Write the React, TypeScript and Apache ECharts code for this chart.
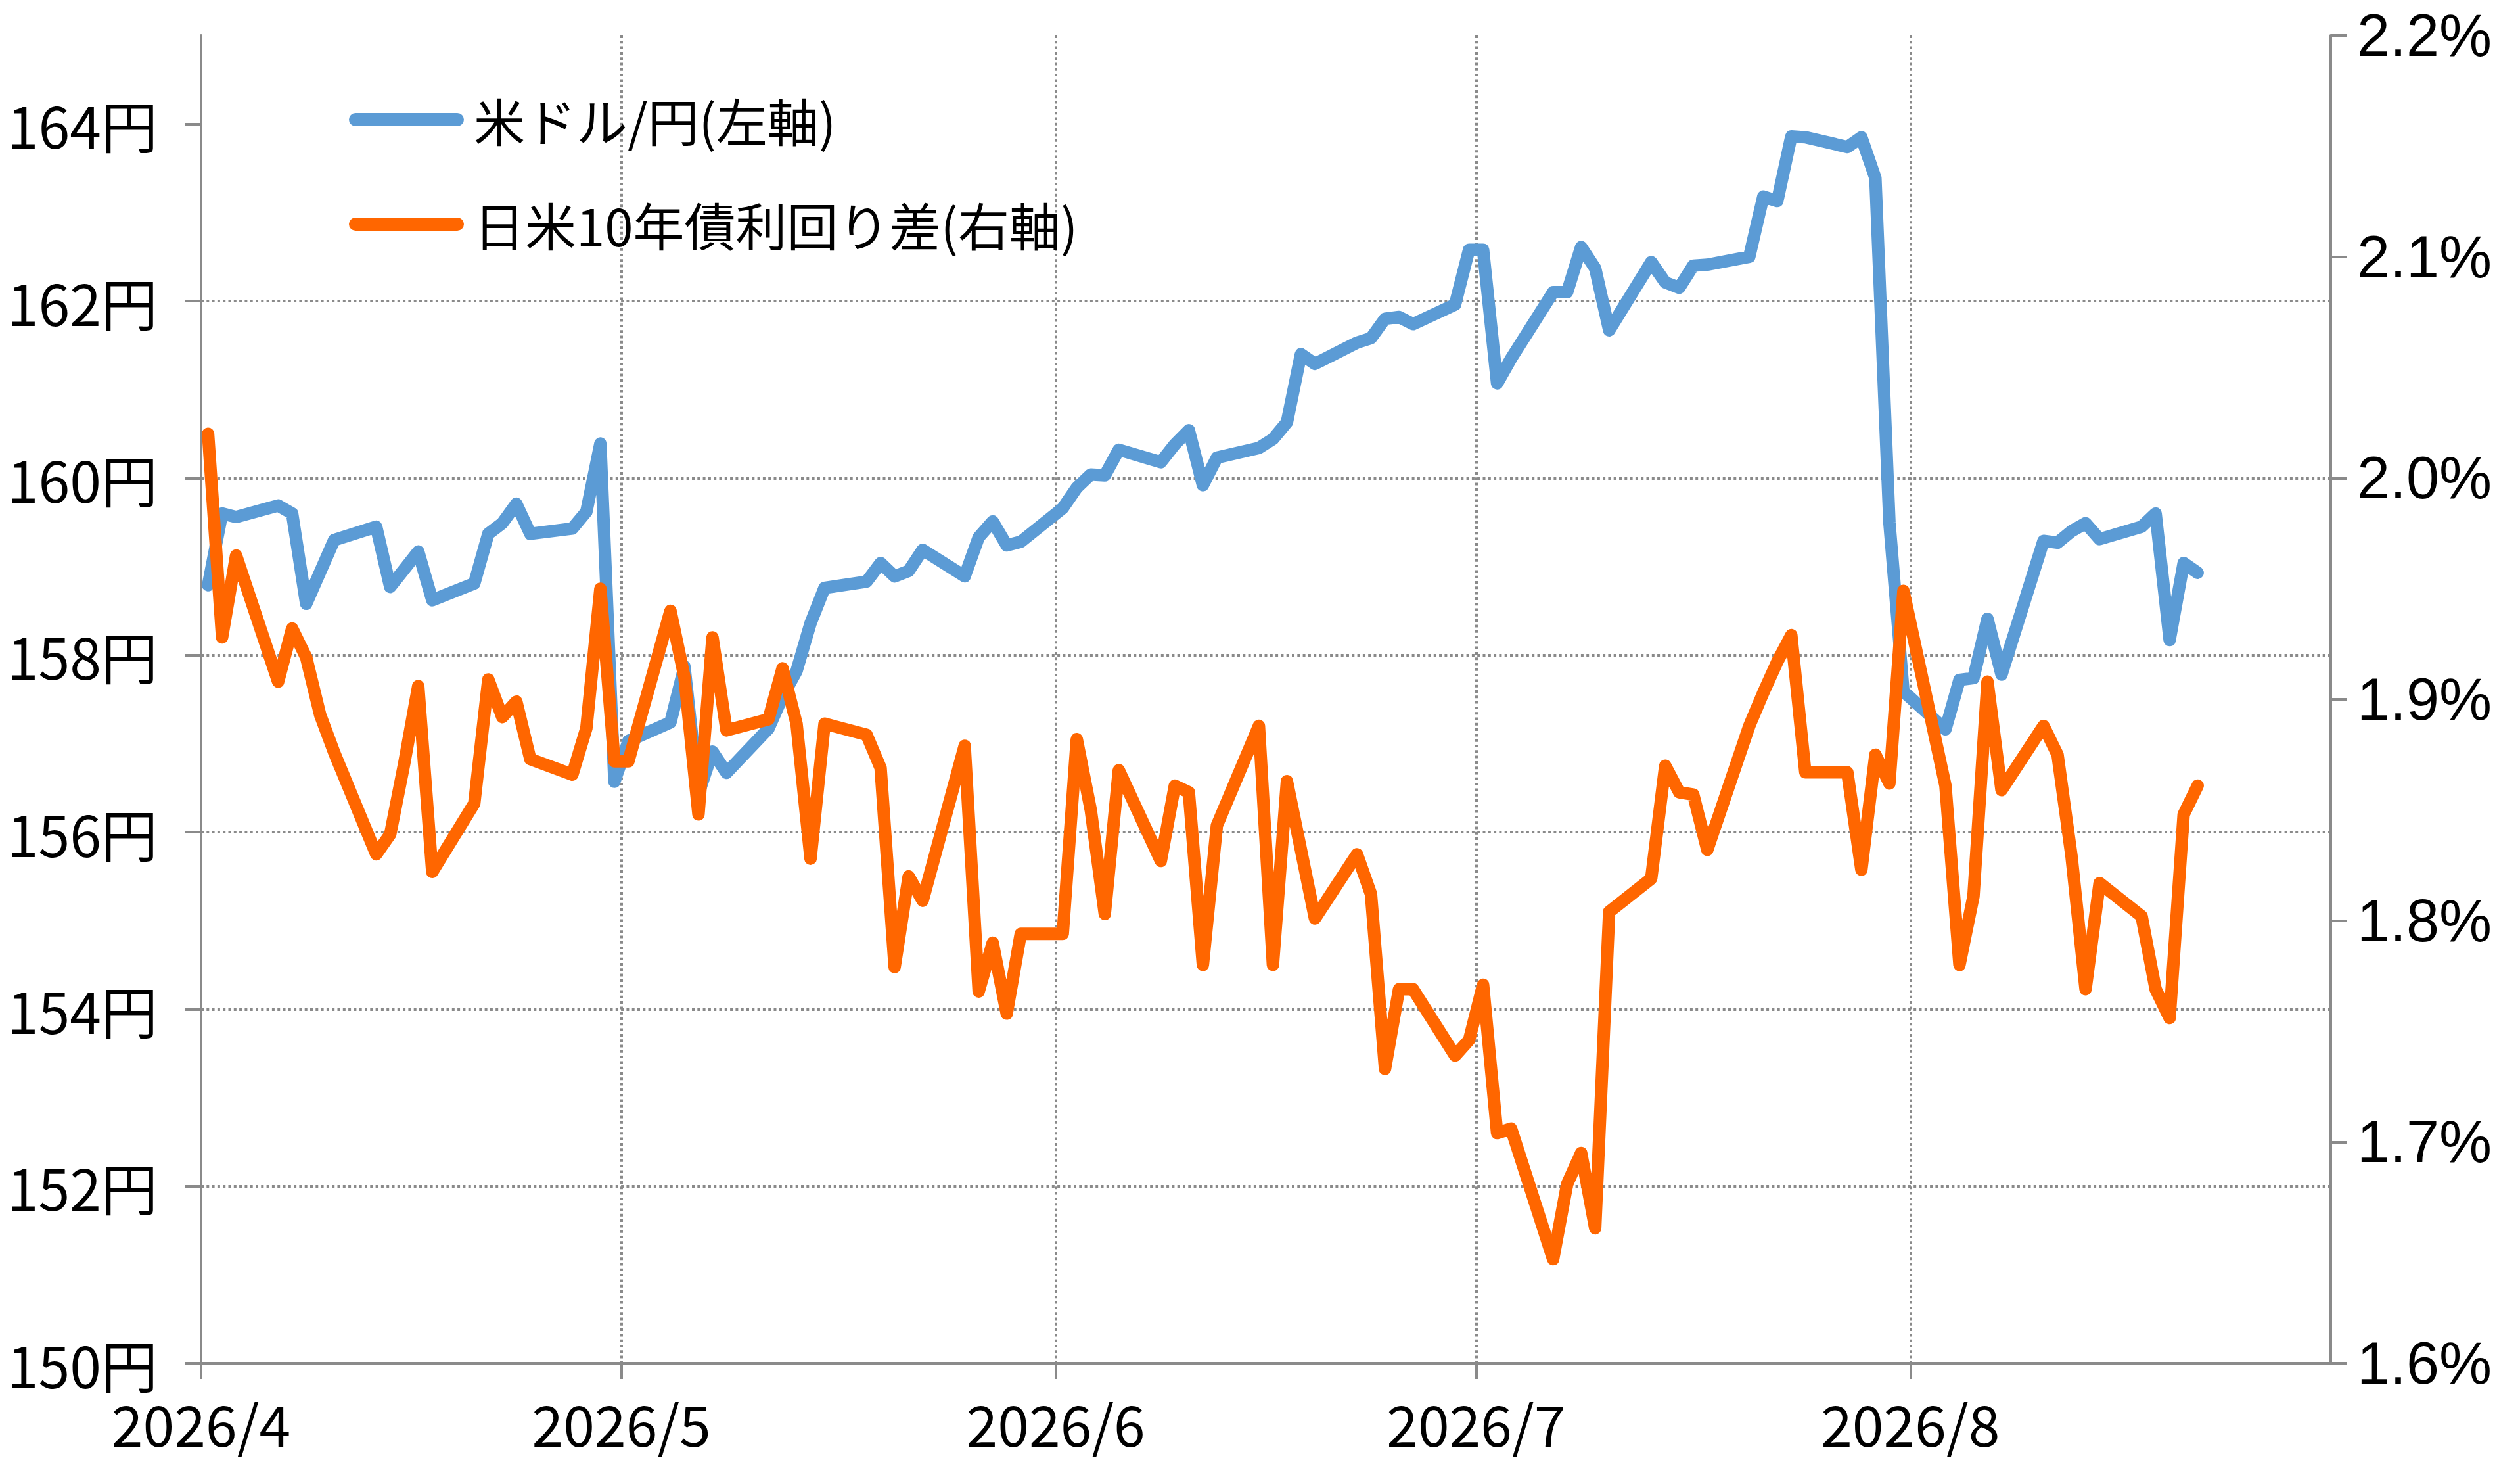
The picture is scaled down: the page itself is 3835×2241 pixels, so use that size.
import React, { useEffect, useRef } from "react";
import * as echarts from "echarts";

// Trading days (2026), month/day
const tradingDays = [
  "04-01", "04-02", "04-03", "04-06", "04-07", "04-08", "04-09", "04-10", "04-13", "04-14", "04-15",
  "04-16", "04-17", "04-20", "04-21", "04-22", "04-23", "04-24", "04-27", "04-28", "04-29", "04-30",
  "05-01", "05-04", "05-05", "05-06", "05-07", "05-08", "05-11", "05-12", "05-13", "05-14", "05-15",
  "05-18", "05-19", "05-20", "05-21", "05-22", "05-25", "05-26", "05-27", "05-28", "05-29",
  "06-01", "06-02", "06-03", "06-04", "06-05", "06-08", "06-09", "06-10", "06-11", "06-12", "06-15",
  "06-16", "06-17", "06-18", "06-19", "06-22", "06-23", "06-24", "06-25", "06-26", "06-29", "06-30",
  "07-01", "07-02", "07-03", "07-06", "07-07", "07-08", "07-09", "07-10", "07-13", "07-14", "07-15",
  "07-16", "07-17", "07-20", "07-21", "07-22", "07-23", "07-24", "07-27", "07-28", "07-29", "07-30", "07-31",
  "08-03", "08-04", "08-05", "08-06", "08-07", "08-10", "08-11", "08-12", "08-13", "08-14",
  "08-17", "08-18", "08-19", "08-20", "08-21",
];

// 米ドル/円 (left axis, yen)
const usdJpy = [
  158.79, 159.6, 159.56, 159.69, 159.6, 158.58, 158.94, 159.3, 159.45, 158.77, 158.97,
  159.17, 158.62, 158.81, 159.37, 159.49, 159.71, 159.37, 159.43, 159.62, 160.39, 156.57,
  157.03, 157.24, 157.87, 156.43, 156.91, 156.67, 157.17, 157.53, 157.82, 158.36, 158.76,
  158.83, 159.04, 158.89, 158.95, 159.19, 158.89, 159.33, 159.51, 159.24, 159.28,
  159.66, 159.89, 160.04, 160.03, 160.32, 160.18, 160.38, 160.54, 159.92, 160.23, 160.34,
  160.44, 160.63, 161.4, 161.29, 161.53, 161.58, 161.8, 161.82, 161.74, 161.96, 162.58,
  162.58, 161.07, 161.35, 162.1, 162.1, 162.61, 162.37, 161.67, 162.44, 162.21, 162.15,
  162.4, 162.41, 162.5, 163.18, 163.13, 163.86, 163.85, 163.74, 163.85, 163.39, 159.5, 157.59,
  157.16, 157.72, 157.74, 158.41, 157.78, 159.29, 159.27, 159.4, 159.49, 159.31,
  159.45, 159.6, 158.17, 159.04, 158.93,
];

// 日米10年債利回り差 (right axis, %)
const yieldSpread = [
  2.02, 1.928, 1.965, 1.908, 1.932, 1.919, 1.893, 1.876, 1.83, 1.839, 1.871,
  1.906, 1.822, 1.853, 1.909, 1.892, 1.899, 1.873, 1.866, 1.887, 1.95, 1.872,
  1.872, 1.94, 1.91, 1.848, 1.928, 1.886, 1.891, 1.914, 1.889, 1.828, 1.889,
  1.884, 1.869, 1.779, 1.82, 1.809, 1.879, 1.768, 1.79, 1.758, 1.794,
  1.794, 1.882, 1.85, 1.803, 1.868, 1.827, 1.861, 1.858, 1.78, 1.843, 1.888,
  1.78, 1.863, 1.832, 1.801, 1.83, 1.812, 1.733, 1.769, 1.769, 1.739, 1.746,
  1.771, 1.704, 1.706, 1.647, 1.681, 1.695, 1.661, 1.804, 1.819, 1.87, 1.858,
  1.857, 1.832, 1.888, 1.903, 1.917, 1.929, 1.867, 1.867, 1.823, 1.875, 1.862, 1.949,
  1.861, 1.78, 1.811, 1.908, 1.859, 1.888, 1.875, 1.829, 1.769, 1.817,
  1.802, 1.769, 1.756, 1.848, 1.861,
];

const seriesNames = ["米ドル/円(左軸)", "日米10年債利回り差(右軸)"];
const monthStarts = ["04-01", "05-01", "06-01", "07-01", "08-01"];
const yenTicks = [150, 152, 154, 156, 158, 160, 162, 164];
const pctTicks = [1.6, 1.7, 1.8, 1.9, 2.0, 2.1, 2.2];
const YEAR = 2026;
const axisStart = "04-01";
const axisEnd = "08-31";

const DAY = 86400000;
const toTime = (md: string) => {
  const [m, d] = md.split("-").map(Number);
  return Date.UTC(YEAR, m - 1, d);
};
// days since axis start (x axis is a day-count value axis)
const toDay = (md: string) => Math.round((toTime(md) - toTime(axisStart)) / DAY);

const JP_FONT = "'Noto Sans CJK JP', 'Noto Sans', sans-serif";
const GRAY = "#8a8a8a";

export default function App() {
  const ref = useRef<HTMLDivElement>(null);

  useEffect(() => {
    if (!ref.current) return;
    const chart = echarts.init(ref.current, undefined, { renderer: "svg" });
    const monthValues = monthStarts.map(toDay);
    // each trading day sits in the middle of its day slot
    const blueData = tradingDays.map((d, i) => [toDay(d) + 0.5, usdJpy[i]]);
    const orangeData = tradingDays.map((d, i) => [toDay(d) + 0.5, yieldSpread[i]]);
    const monthLabel = (v: number) => {
      const d = new Date(toTime(axisStart) + Math.round(v) * DAY);
      return `${d.getUTCFullYear()}/${d.getUTCMonth() + 1}`;
    };

    chart.setOption({
      animation: false,
      backgroundColor: "#ffffff",
      grid: { left: 306, right: 288, top: 54, bottom: 167 },
      legend: {
        orient: "vertical",
        left: 531,
        top: 143,
        padding: 0,
        itemGap: 81,
        itemWidth: 175,
        itemHeight: 20,
        icon: "path://M10,0 H165 A10,10 0 0 1 165,20 H10 A10,10 0 0 1 10,0 Z",
        textStyle: {
          fontFamily: JP_FONT,
          fontSize: 78,
          color: "#000",
          padding: [0, 0, 0, 10],
        },
        data: seriesNames,
      },
      xAxis: {
        type: "value",
        min: 0,
        max: toDay(axisEnd),
        interval: 1,
        axisLine: { show: true, onZero: false, lineStyle: { color: GRAY, width: 4 } },
        axisTick: {
          show: true,
          length: 24,
          customValues: monthValues,
          lineStyle: { color: GRAY, width: 4 },
        },
        axisLabel: {
          customValues: monthValues,
          formatter: monthLabel,
          fontFamily: JP_FONT,
          fontSize: 86,
          color: "#000",
          margin: 46,
          hideOverlap: false,
        },
        splitLine: {
          show: true,
          lineStyle: { color: GRAY, width: 4, type: [4, 4.3] },
        },
      },
      yAxis: [
        {
          type: "value",
          position: "left",
          min: 150,
          max: 165,
          interval: 2,
          axisLine: { show: true, onZero: false, lineStyle: { color: GRAY, width: 4 } },
          axisTick: {
            show: true,
            length: 24,
            customValues: yenTicks,
            lineStyle: { color: GRAY, width: 4 },
          },
          axisLabel: {
            customValues: yenTicks,
            formatter: (v: number) => `${v}円`,
            fontFamily: JP_FONT,
            fontSize: 86,
            color: "#000",
            margin: 66,
          },
          splitLine: {
            show: true,
            showMinLine: false,
            showMaxLine: false,
            lineStyle: { color: GRAY, width: 4, type: [4, 4.3] },
          },
        },
        {
          type: "value",
          position: "right",
          min: 1.6,
          max: 2.2,
          interval: 0.1,
          axisLine: { show: true, onZero: false, lineStyle: { color: GRAY, width: 4 } },
          axisTick: {
            show: true,
            length: 24,
            customValues: pctTicks,
            lineStyle: { color: GRAY, width: 4 },
          },
          axisLabel: {
            customValues: pctTicks,
            formatter: (v: number) => `${v.toFixed(1)}%`,
            fontFamily: "'Liberation Sans', Arial, sans-serif",
            fontSize: 90,
            color: "#000",
            margin: 40,
          },
          splitLine: { show: false },
        },
      ],
      series: [
        {
          name: seriesNames[0],
          type: "line",
          yAxisIndex: 0,
          data: blueData,
          showSymbol: false,
          symbol: "none",
          color: "#5b9bd5",
          lineStyle: { width: 19, color: "#5b9bd5", cap: "round", join: "round" },
          z: 2,
        },
        {
          name: seriesNames[1],
          type: "line",
          yAxisIndex: 1,
          data: orangeData,
          showSymbol: false,
          symbol: "none",
          color: "#ff6600",
          lineStyle: { width: 19, color: "#ff6600", cap: "round", join: "round" },
          z: 3,
        },
      ],
    });

    return () => chart.dispose();
  }, []);

  return (
    <div
      ref={ref}
      style={{ position: "fixed", left: 0, top: 0, width: 3835, height: 2241, background: "#fff" }}
    />
  );
}
